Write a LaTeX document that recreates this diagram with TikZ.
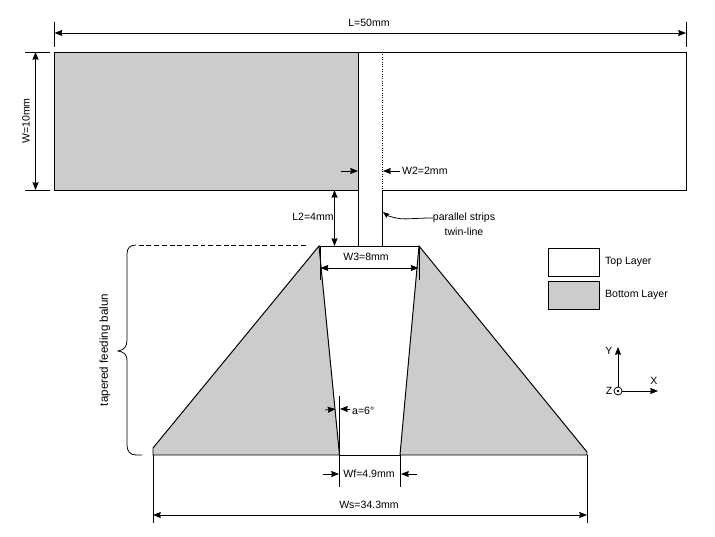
\documentclass[tikz,border=0pt]{standalone}
\usepackage{fontspec}
\setmainfont{Liberation Sans}
\usetikzlibrary{arrows.meta}
\tikzset{
  edge/.style={line width=1.4pt},
  thinedge/.style={line width=1.1pt},
  layer/.style={edge,fill=black!20},
  dimline/.style={thinedge,{Stealth[length=11pt,width=8.5pt,inset=1pt]}-{Stealth[length=11pt,width=8.5pt,inset=1pt]}},
  dimtip/.style={thinedge,-{Stealth[length=11pt,width=8.5pt,inset=1pt]}},
  lab/.style={font=\fontsize{15}{18}\selectfont,inner sep=0pt}
}
\begin{document}
\begin{tikzpicture}[x=0.05cm,y=0.05cm]
%\draw[help lines,step=50] (0,0) grid (715,536);
\useasboundingbox (0,0) rectangle (715,536);

% top and bottom layers of the long strip
\draw[layer] (54.5,484) rectangle (358,346);
\draw[edge] (382.5,346) -- (686,346) -- (686,484) -- (54.5,484);
\draw[edge,dotted] (382.5,484) -- (382.5,346);
\draw[edge] (358,346) -- (358,290);
\draw[edge] (382.5,346) -- (382.5,290);

% tapered balun
\draw[layer] (319,290) -- (153,88) -- (153,81) -- (339.5,81) -- cycle;
\draw[layer] (419,290) -- (587,84) -- (587,81) -- (400,81) -- cycle;
\draw[edge] (319,290) -- (419,290);
\draw[edge] (339.5,81) -- (400,81);

% length and width
\draw[thinedge] (54.5,514) -- (54.5,489);
\draw[thinedge] (686,514) -- (686,489);
\draw[dimline] (54.5,503) -- (686,503);
\node[lab] (lenlab) at (369,513) {L=50mm};
\draw[thinedge] (25,484) -- (50,484);
\draw[thinedge] (25,346) -- (50,346);
\draw[dimline] (35.5,484) -- (35.5,346);
\node[lab,rotate=90] (widlab) at (26,415) {W=10mm};

% strip width
\draw[dimtip] (341,365) -- (358,365);
\draw[dimtip] (400,365) -- (383,365);
\node[lab,anchor=west] (w2lab) at (402,365) {W2=2mm};
\draw[dimline] (334.5,346) -- (334.5,290);
\node[lab] (l2lab) at (313,319) {L2=4mm};
\draw[thinedge,-{Stealth[length=9pt,width=7pt,inset=1pt]}] (433,318) .. controls (412,318) and (405,316) .. (396,318) .. controls (392,319) and (388,320) .. (383,324);
\node[lab] (striplab) at (464,318) {parallel strips};
\node[lab] (twinlab) at (464,304) {twin-line};

% taper top width
\draw[thinedge] (320,290) -- (320,256);
\draw[thinedge] (419,290) -- (419,256);
\draw[dimline] (320.5,268) -- (418.5,268);
\node[lab] (w3lab) at (366,279) {W3=8mm};

% taper angle
\draw[thinedge] (339.5,140) -- (339.5,81);
\draw[dimtip] (325,126) -- (335.5,127);
\draw[dimtip] (350,127) -- (340,127);
\node[lab,anchor=west] (alab) at (352,125) {a=6\textdegree};

% feed and base widths
\draw[thinedge] (339.5,81) -- (339.5,49);
\draw[thinedge] (400,81) -- (400,49);
\draw[dimtip] (323,62) -- (339,62);
\draw[dimtip] (417,62) -- (401,62);
\node[lab] (wflab) at (369,62) {Wf=4.9mm};
\draw[thinedge] (153,81) -- (153,13);
\draw[thinedge] (587,81) -- (587,13);
\draw[dimline] (153,21) -- (587,21);
\node[lab] (wslab) at (369,31) {Ws=34.3mm};

% brace
\draw[thinedge,dash pattern=on 7pt off 4pt] (306,291) -- (136,291);
\draw[thinedge] (136,291) .. controls (130,291) and (127,288) .. (127,282) -- (127,196)
  .. controls (127,189) and (124,186) .. (118,185) .. controls (124,184) and (127,182) .. (127,175)
  -- (127,91) .. controls (127,85) and (130,81) .. (136,81) -- (142,81);
\node[lab,font=\fontsize{16.5}{20}\selectfont,rotate=90] (balunlab) at (105,186) {tapered feeding balun};

% legend
\draw[edge] (548,288) rectangle (599.5,260);
\draw[layer] (548,255) rectangle (599.5,227);
\node[lab,anchor=west] (toplab) at (605,274) {Top Layer};
\node[lab,anchor=west] (botlab) at (605,241) {Bottom Layer};

% axes
\draw[thinedge] (618,145) circle (4);
\fill (618,145) circle (1.3);
\draw[dimtip] (618,149) -- (618,189);
\draw[dimtip] (622,145) -- (658,145);
\node[lab] (ylab) at (609,185) {Y};
\node[lab] (xlab) at (654,155) {X};
\node[lab] (zlab) at (609,145) {Z};
\end{tikzpicture}
\end{document}
